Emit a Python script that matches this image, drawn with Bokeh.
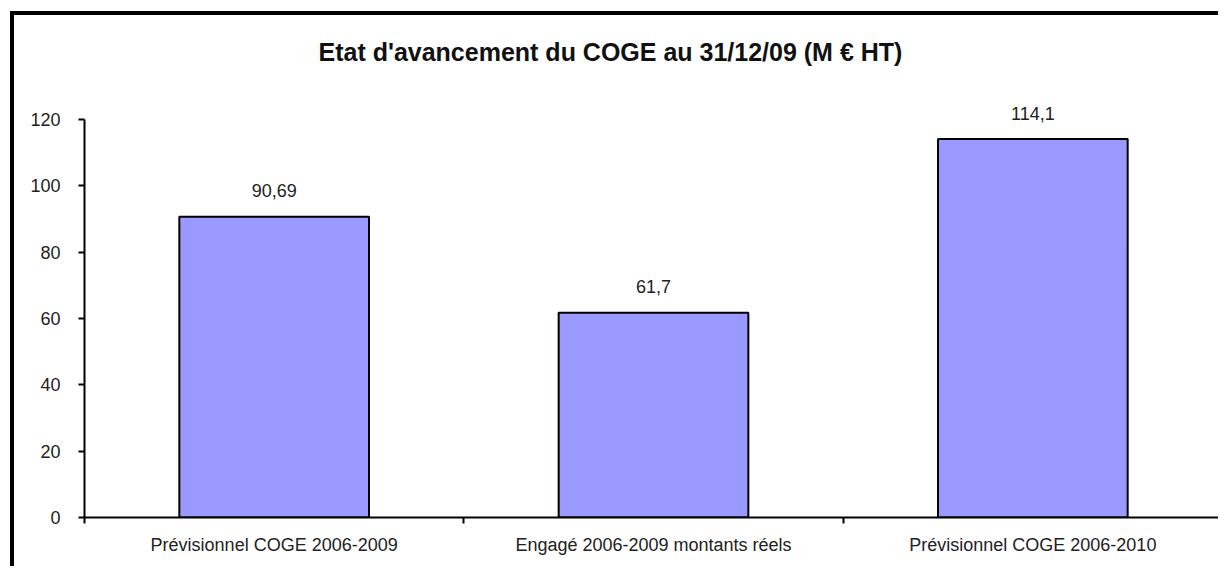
from bokeh.plotting import figure
from bokeh.models import FixedTicker, Range1d, ColumnDataSource, LabelSet
from bokeh.core.properties import value
from bokeh.embed import file_html
from bokeh.resources import INLINE

categories = ["Prévisionnel COGE 2006-2009", "Engagé 2006-2009 montants réels", "Prévisionnel COGE 2006-2010"]
values = [90.69, 61.7, 114.1]
value_labels = ["90,69", "61,7", "114,1"]
y_ticks = [0, 20, 40, 60, 80, 100, 120]

xs = [i + 0.5 for i in range(len(categories))]
src = ColumnDataSource(dict(x=xs, top=values, lab=value_labels))

# frame spans 0..~129 so that the value labels above the tallest bar are not clipped;
# the axis itself is bounded to 0..120 as in the original
p = figure(width=1208, height=555, output_backend="svg", toolbar_location=None,
           x_range=Range1d(0, len(categories)), y_range=Range1d(0, 129.05),
           min_border_left=70, min_border_right=0, min_border_top=74, min_border_bottom=53)
p.styles = {"border-left": "4px solid black", "border-top": "4px solid black",
            "margin-left": "10px", "margin-top": "11px"}
p.outline_line_color = None
p.xgrid.visible = False
p.ygrid.visible = False
p.background_fill_color = "white"

p.title.text = "Etat d'avancement du COGE au 31/12/09 (M € HT)"
p.title.text_font = "Liberation Sans"
p.title.text_font_style = "bold"
p.title.text_font_size = "25px"
p.title.text_color = "#111111"
p.title.align = "left"
p.title.vertical_align = "top"
p.title.offset = 234
p.title.standoff = 43

p.vbar(x="x", top="top", width=0.5, bottom=0, source=src,
       fill_color="#9999FF", line_color="black", line_width=2)
p.add_layout(LabelSet(x="x", y="top", text="lab", source=src, text_align="center",
                      text_baseline="middle", y_offset=26, text_font=value("Liberation Sans"),
                      text_font_size=value("18px"), text_color="#222222"))

# y axis
ya = p.yaxis[0]
ya.ticker = FixedTicker(ticks=y_ticks)
ya.bounds = (0, 120)
ya.axis_line_width = 2
ya.major_tick_line_width = 2
ya.major_tick_in = 0
ya.major_tick_out = 6
ya.minor_tick_line_color = None
ya.major_label_standoff = 18
ya.major_label_text_font = "Liberation Sans"
ya.major_label_text_font_size = "18px"
ya.major_label_text_color = "#222222"

# x axis
xa = p.xaxis[0]
xa.ticker = FixedTicker(ticks=xs, minor_ticks=list(range(len(categories) + 1)))
xa.major_label_overrides = {x: c for x, c in zip(xs, categories)}
xa.axis_line_width = 2
xa.major_tick_in = 0
xa.major_tick_out = 0
xa.minor_tick_in = 0
xa.minor_tick_out = 6
xa.minor_tick_line_width = 2
xa.minor_tick_line_color = "black"
xa.major_label_standoff = 11
xa.major_label_text_font = "Liberation Sans"
xa.major_label_text_font_size = "18px"
xa.major_label_text_color = "#222222"

open("out.html", "w").write(file_html(p, INLINE))
